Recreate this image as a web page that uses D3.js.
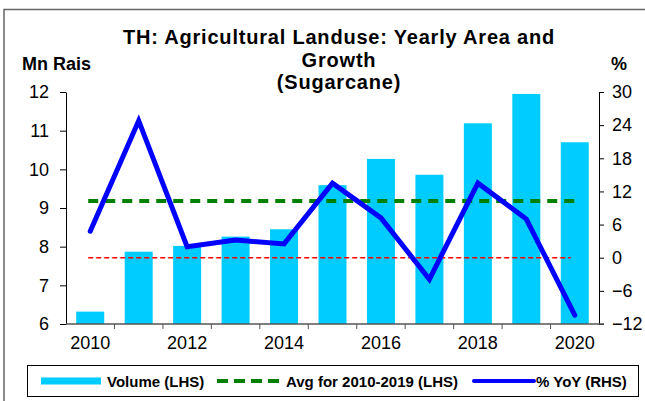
<!DOCTYPE html>
<html>
<head>
<meta charset="utf-8">
<script src="https://cdn.jsdelivr.net/npm/d3@7"></script>
<style>
  body { margin: 0; background: #fff; }
  text { font-family: Arial, "Liberation Sans", sans-serif; fill: #000; }
</style>
</head>
<body>
<script>
const years = [2010, 2011, 2012, 2013, 2014, 2015, 2016, 2017, 2018, 2019, 2020];
const volume = [6.32, 7.87, 8.02, 8.26, 8.45, 9.59, 10.27, 9.86, 11.19, 11.95, 10.70];
const yoy = [4.8, 24.8, 2.0, 3.2, 2.5, 13.5, 7.2, -3.9, 13.5, 7.0, -10.4];
const avg2010_2019 = [9.18];
const leftTicks = [6, 7, 8, 9, 10, 11, 12];
const rightTicks = [-12, -6, 0, 6, 12, 18, 24, 30];
const yearLabels = [2010, 2012, 2014, 2016, 2018, 2020];

const width = 645, height = 401;
const plot = {left: 66, right: 599, top: 92, bottom: 324};

const svg = d3.select('body').append('svg')
  .attr('width', width)
  .attr('height', height);

// frame
svg.append('path')
  .attr('d', `M4,${height} L4,9.5 L${width},9.5`)
  .attr('fill', 'none')
  .attr('stroke', '#666')
  .attr('stroke-width', 1.5);

const band = d3.scaleBand().domain(years).range([plot.left, plot.right]);
const cx = d => band(d) + band.bandwidth() / 2;

const yL = d3.scaleLinear().domain([6, 12]).range([plot.bottom, plot.top]);
const yR = d3.scaleLinear().domain([-12, 30]).range([plot.bottom, plot.top]);

// bars
svg.append('g')
  .selectAll('rect')
  .data(years)
  .enter()
  .append('rect')
  .attr('x', d => cx(d) - 14)
  .attr('width', 28)
  .attr('y', (d, i) => yL(volume[i]))
  .attr('height', (d, i) => yL(6) - yL(volume[i]))
  .attr('fill', '#00CCFF');

// zero line of RHS
svg.append('line')
  .attr('x1', cx(years[0]) - 2)
  .attr('x2', cx(years[10]) - 4)
  .attr('y1', yR(0))
  .attr('y2', yR(0))
  .attr('stroke', '#FF0000')
  .attr('stroke-width', 1.5)
  .attr('stroke-dasharray', '5,3');

// average line
svg.append('line')
  .attr('x1', cx(years[0]) - 2)
  .attr('x2', cx(years[10]))
  .attr('y1', yL(avg2010_2019[0]))
  .attr('y2', yL(avg2010_2019[0]))
  .attr('stroke', '#008000')
  .attr('stroke-width', 4)
  .attr('stroke-dasharray', '10,7');

// yoy line
const line = d3.line()
  .x((d, i) => cx(years[i]))
  .y(d => yR(d));

svg.append('path')
  .datum(yoy)
  .attr('d', line)
  .attr('fill', 'none')
  .attr('stroke', '#0000FF')
  .attr('stroke-width', 5)
  .attr('stroke-linecap', 'round')
  .attr('stroke-linejoin', 'miter');

// axes
const leftAxis = svg.append('g')
  .attr('transform', `translate(${plot.left},0)`)
  .call(d3.axisLeft(yL).tickValues(leftTicks).tickFormat(d3.format('d'))
    .tickSize(6).tickPadding(11).tickSizeOuter(0));

const rightAxis = svg.append('g')
  .attr('transform', `translate(${plot.right},0)`)
  .call(d3.axisRight(yR).tickValues(rightTicks).tickFormat(d3.format('d'))
    .tickSize(5).tickPadding(8).tickSizeOuter(0));

[leftAxis, rightAxis].forEach(a => {
  a.attr('font-size', null).attr('font-family', null);
  a.selectAll('text').style('font-size', '18px').attr('fill', '#000');
  a.selectAll('line, path').attr('stroke', '#000');
});

// x axis
const xAxisG = svg.append('g');
xAxisG.append('line')
  .attr('x1', plot.left)
  .attr('x2', plot.right + 5)
  .attr('y1', plot.bottom)
  .attr('y2', plot.bottom)
  .attr('stroke', '#555')
  .attr('stroke-width', 1.5);

xAxisG.selectAll('.tk')
  .data(years.slice(1))
  .enter()
  .append('line')
  .attr('x1', d => band(d))
  .attr('x2', d => band(d))
  .attr('y1', plot.bottom)
  .attr('y2', plot.bottom + 5)
  .attr('stroke', '#555');

xAxisG.selectAll('text')
  .data(yearLabels)
  .enter()
  .append('text')
  .attr('x', d => cx(d))
  .attr('y', plot.bottom + 25)
  .attr('text-anchor', 'middle')
  .style('font-size', '18px')
  .text(d => d);

// titles
['TH: Agricultural Landuse: Yearly Area and', 'Growth', '(Sugarcane)'].forEach((t, i) => {
  svg.append('text')
    .attr('x', 339)
    .attr('y', 44 + i * 22.5)
    .attr('text-anchor', 'middle')
    .style('font-size', '20px')
    .style('font-weight', 'bold')
    .style('letter-spacing', '0.8px')
    .text(t);
});

svg.append('text')
  .attr('x', 22)
  .attr('y', 70)
  .style('font-size', '18px')
  .style('font-weight', 'bold')
  .text('Mn Rais');

svg.append('text')
  .attr('x', 611)
  .attr('y', 70)
  .style('font-size', '18px')
  .style('font-weight', 'bold')
  .text('%');

// legend
const lg = svg.append('g');
lg.append('rect')
  .attr('x', 27.5)
  .attr('y', 365.5)
  .attr('width', 611)
  .attr('height', 31)
  .attr('fill', '#fff')
  .attr('stroke', '#000')
  .attr('stroke-width', 1);

const ly = 381;
lg.append('rect')
  .attr('x', 41).attr('y', ly - 3.5)
  .attr('width', 60).attr('height', 7)
  .attr('fill', '#00CCFF');
lg.append('text')
  .attr('x', 107).attr('y', ly + 5.5)
  .style('font-size', '15px').style('font-weight', 'bold')
  .text('Volume (LHS)');

lg.append('line')
  .attr('x1', 217).attr('x2', 281)
  .attr('y1', ly).attr('y2', ly)
  .attr('stroke', '#008000')
  .attr('stroke-width', 4)
  .attr('stroke-dasharray', '11,6');
lg.append('text')
  .attr('x', 286).attr('y', ly + 5.5)
  .style('font-size', '15px').style('font-weight', 'bold')
  .text('Avg for 2010-2019 (LHS)');

lg.append('line')
  .attr('x1', 474).attr('x2', 534)
  .attr('y1', ly).attr('y2', ly)
  .attr('stroke', '#0000FF')
  .attr('stroke-width', 4)
  .attr('stroke-linecap', 'round');
lg.append('text')
  .attr('x', 536).attr('y', ly + 5.5)
  .style('font-size', '15px').style('font-weight', 'bold')
  .text('% YoY (RHS)');
</script>
</body>
</html>
